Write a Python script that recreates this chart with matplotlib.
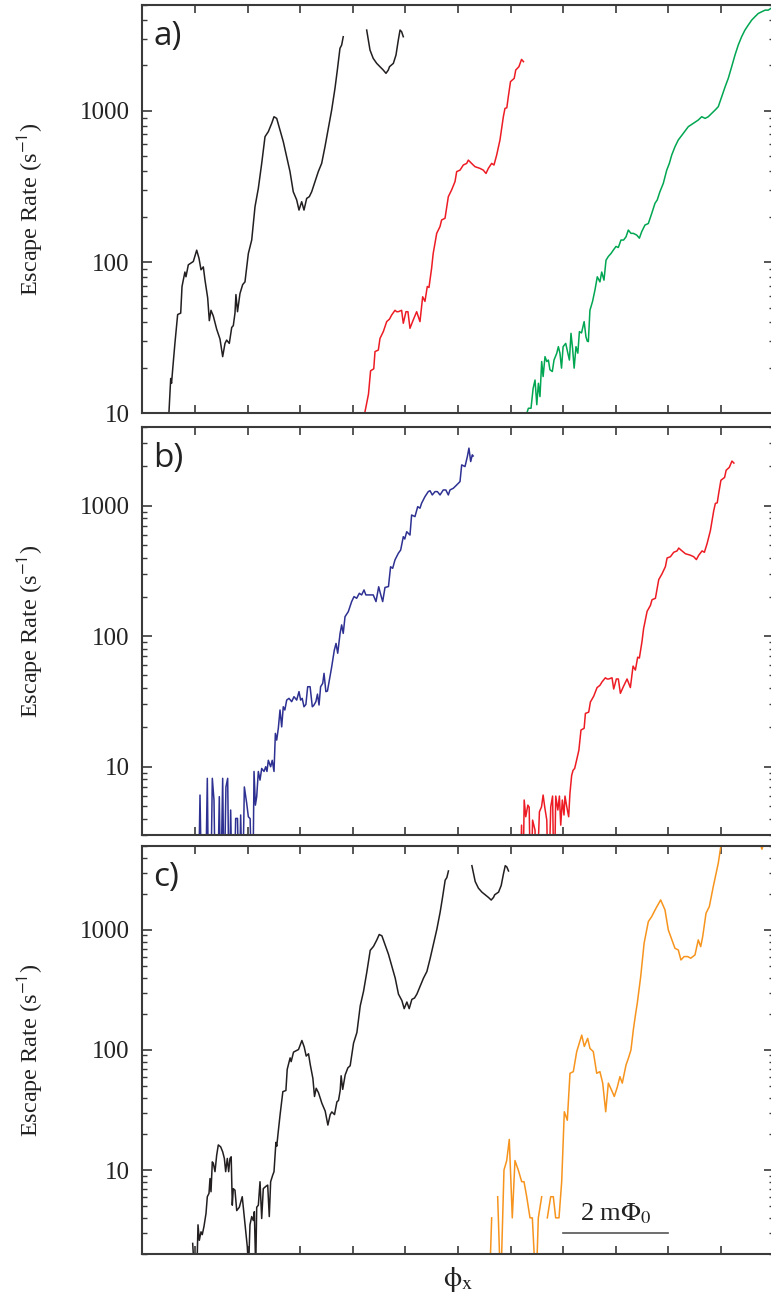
import numpy as np
import matplotlib
matplotlib.use('Agg')
import matplotlib.pyplot as plt
from matplotlib.ticker import FixedLocator, LogLocator, NullFormatter, NullLocator, FuncFormatter

nan = np.nan

# ---------------- data (x in mPhi0, y = escape rate in 1/s) ----------------
# black curve, in panel c coordinates (panel a shows it shifted by -2 mPhi0)
BLACK_X = [0.958, 0.985, 1.04, 1.059, 1.084, 1.116, 1.14, 1.173, 1.211, 1.236, 1.268, 1.287,
           1.306, 1.331, 1.35, 1.382, 1.414, 1.445, 1.49, 1.528, 1.56, 1.585, 1.616, 1.642,
           1.667, 1.69, 1.711, 1.73, 1.762, 1.795, 1.844, 1.90, 1.952, 1.996, 2.02, 2.047,
           2.08, 2.11, 2.13, 2.156, 2.175, 2.206, 2.238, 2.27, 2.30, 2.346, 2.384, 2.414,
           2.44, 2.48, 2.504, 2.54, 2.556, 2.58, 2.62, 2.672, 2.73, 2.755, 2.81, 2.83, 2.875,
           2.97, 3.034, 3.078, 3.116, 3.16, 3.192, 3.243, 3.274, 3.306, 3.35, 3.414, 3.477,
           3.528, 3.572, 3.604, 3.654, 3.70, 3.73, 3.762, 3.78, 3.81, 3.857, 3.908, 3.952,
           4.016, 4.08, 4.143, 4.206, 4.27, 4.333, 4.396, 4.46, 4.504, 4.555, 4.618, 4.68,
           4.745, 4.808, 4.87, 4.935, 4.979, 5.03, 5.074, 5.125, 5.175, 5.22, 5.283, 5.346,
           5.41, 5.473, 5.536, 5.60, 5.663, 5.708, 5.758, 5.79, 5.82, nan,
           6.266, 6.329, 6.39, 6.456, 6.519, 6.58, 6.633, 6.677, 6.70, 6.773, 6.823, 6.867,
           6.90, 6.93, 6.962]
BLACK_Y = [2.45, 1.5, 1.6, 3.5, 2.6, 3.06, 2.9, 3.4, 4.35, 6.0, 6.4, 8.5,
           6.6, 11.7, 11.4, 9.7, 13.3, 16.2, 15.6, 14.2, 12.5, 9.7, 12.5, 9.7,
           12.5, 12.9, 5.1, 7.0, 6.8, 4.6, 4.9, 6.0, 3.6, 2.3, 1.5, 3.5,
           4.1, 3.8, 4.5, 1.5, 4.9, 5.1, 8.0, 3.95, 7.0, 7.3, 7.5, 4.1,
           8.0, 9.1, 9.7, 17, 15.8, 20, 29, 45, 46, 69, 86, 80, 96,
           101, 120, 106, 89, 93, 76, 58, 41, 48, 44, 36, 31,
           23.7, 29, 30.5, 29, 37, 38, 46, 61, 47, 62, 71, 74,
           114, 140, 233, 308, 450, 676, 730, 828, 916, 893, 749, 627,
           499, 397, 292, 258, 221, 251, 221, 264, 271, 292, 341, 397,
           450, 580, 767, 1014, 1410, 1866, 2596, 2730, 3098, nan,
           3428, 2529, 2228, 2065, 1963, 1866, 1774, 1866, 1963, 2065, 2344, 2944,
           3428, 3344, 3098]

# red curve, in panel b coordinates (panel a shows it shifted by -4 mPhi0)
RED_X = [7.18, 7.21, 7.235, 7.26, 7.29, 7.33, 7.355, 7.384, 7.42, 7.466, 7.49, 7.55, 7.59,
         7.62, 7.65, 7.69, 7.72, 7.765, 7.80, 7.83, 7.86, 7.90, 7.93, 7.955, 7.985, 8.017,
         8.036, 8.07, 8.106, 8.13, 8.163, 8.19, 8.22, 8.256, 8.30, 8.34, 8.40, 8.424, 8.487,
         8.519, 8.582, 8.646, 8.70, 8.741, 8.804, 8.836, 8.867, 8.93, 8.962, 9.013, 9.05,
         9.089, 9.15, 9.216, 9.279, 9.33, 9.374, 9.418, 9.45, 9.50, 9.53, 9.597, 9.66, 9.69,
         9.755, 9.818, 9.88, 9.945, 9.977, 10.04, 10.103, 10.167, 10.198, 10.26, 10.325,
         10.42, 10.483, 10.534, 10.579, 10.642, 10.686, 10.737, 10.80, 10.864, 10.895,
         10.93, 10.958, 11.00, 11.07, 11.10, 11.16, 11.21, 11.247]
RED_Y = [1, 3.57, 1, 5.56, 4.14, 5.08, 4.9, 1, 3.9, 3.27, 1, 4.52, 4.93,
         6.07, 4.93, 3.9, 1, 4.93, 5.96, 1, 5.96, 4.66, 5.96, 3.57, 5.56, 4.27,
         5.96, 4.93, 4.14, 6.25, 8.6, 9.4, 9.7, 11.2, 13.4, 19.1, 19.7, 25.6, 26.2,
         31.3, 34.7, 40.4, 42, 44.7, 48, 47, 47, 48, 39.4, 47, 47,
         36.5, 41.4, 47, 40.4, 59, 55, 69, 68, 91, 114, 155, 172, 190,
         195, 271, 300, 341, 397, 406, 439, 450, 473, 450, 428,
         417, 406, 386, 417, 450, 439, 511, 643, 916, 1040,
         1050, 1241, 1563, 1643, 1866, 1963, 2194, 2118]

# green curve (panel a)
GREEN_X = [7.31, 7.34, 7.39, 7.43, 7.466, 7.50, 7.53, 7.56, 7.593, 7.62, 7.656, 7.69, 7.72,
           7.75, 7.795, 7.827, 7.88, 7.91, 7.94, 7.97, 8.00, 8.05, 8.09, 8.12, 8.15, 8.18,
           8.21, 8.245, 8.28, 8.31, 8.35, 8.40, 8.435, 8.46, 8.48, 8.51, 8.56, 8.606, 8.65,
           8.70, 8.734, 8.777, 8.816, 8.86, 8.91, 8.954, 9.006, 9.05, 9.10, 9.15, 9.196, 9.24,
           9.29, 9.335, 9.40, 9.45, 9.494, 9.557, 9.62, 9.685, 9.747, 9.79, 9.84, 9.905,
           9.97, 10.02, 10.065, 10.127, 10.19, 10.285, 10.38, 10.475, 10.57, 10.635, 10.70,
           10.76, 10.825, 10.89, 10.95, 11.015, 11.08, 11.14, 11.205, 11.268, 11.33, 11.394,
           11.457, 11.52, 11.585, 11.647, 11.71, 11.775, 11.84, 11.90, 11.95]
GREEN_Y = [10, 10.8, 10.8, 14.6, 16.6, 11.4, 15.8, 12.9, 22, 17.5, 23.7, 22, 22.5,
           19.4, 18.9, 22.5, 25, 27.6, 25, 19.9, 27.6, 29, 25, 22.5, 33.8, 26.9,
           19.9, 27.6, 25, 34.7, 34, 40.4, 32, 30, 29.8, 48, 55, 65.5, 80,
           74, 86, 76, 103, 109, 114, 120, 127, 125, 140, 140, 147, 163,
           155, 155, 151, 144, 159, 176, 180, 210, 245, 258, 292, 332,
           406, 450, 511, 580, 643, 711, 787, 828, 871, 916, 893,
           916, 964, 1014, 1067, 1241, 1445, 1643, 1963, 2344, 2730, 3098,
           3428, 3700, 3990, 4200, 4415, 4530, 4645, 4645, 4770]

# blue curve (panel b)
BLUE_X = [1.065, 1.097, 1.13, 1.20, 1.236, 1.26, 1.30, 1.331, 1.363, 1.39, 1.43, 1.464, 1.49,
          1.528, 1.555, 1.59, 1.623, 1.65, 1.68, 1.71, 1.745, 1.775, 1.81, 1.84, 1.87, 1.905,
          1.94, 1.985, 2.016, 2.05, 2.085, 2.10, 2.124, 2.15, 2.175, 2.206, 2.238, 2.27, 2.314,
          2.346, 2.37, 2.396, 2.44, 2.47, 2.504, 2.53, 2.555, 2.586, 2.618, 2.65, 2.68, 2.71,
          2.745, 2.789, 2.84, 2.884, 2.935, 2.979, 3.01, 3.04, 3.074, 3.11, 3.144, 3.19, 3.232,
          3.26, 3.30, 3.33, 3.36, 3.39, 3.43, 3.455, 3.49, 3.52, 3.556, 3.60, 3.65, 3.683,
          3.715, 3.76, 3.79, 3.82, 3.854, 3.916, 3.98, 4.025, 4.075, 4.126, 4.17, 4.215, 4.25,
          4.329, 4.39, 4.443, 4.494, 4.53, 4.57, 4.614, 4.68, 4.72, 4.76, 4.804, 4.867, 4.912,
          4.962, 4.99, 5.027, 5.089, 5.12, 5.184, 5.236, 5.279, 5.31, 5.374, 5.437, 5.47,
          5.513, 5.565, 5.61, 5.66, 5.722, 5.77, 5.818, 5.85, 5.913, 5.977, 6.04, 6.072,
          6.135, 6.18, 6.21, 6.243, 6.274, 6.29]
BLUE_Y = [1, 6.07, 1, 1, 8.15, 1, 1, 8.15, 5.56, 1, 1, 5.9, 1,
          8.15, 1, 7.0, 8.15, 1, 4.66, 1, 1, 4.02, 4.02, 1, 4.27, 1,
          7.0, 5.24, 4.14, 4.0, 1, 1, 9.2, 5.08, 5.9, 9.2, 7.9, 9.7, 9.2,
          10, 9.2, 11.2, 10, 11.2, 9.2, 18, 16, 19.7, 27.2, 20.2, 28.8, 27.2,
          32.4, 33.4, 31.5, 34.4, 32.4, 37.6, 32.4, 33.4, 28.8, 30, 41, 41, 28.8,
          29.5, 31.5, 36, 29.7, 41, 43.5, 51.9, 37.6, 38, 46, 58, 78, 88,
          74, 105, 122, 105, 141, 154, 184, 201, 195, 213, 207, 226, 207,
          207, 207, 184, 239, 210, 184, 236, 240, 340, 331, 384, 431, 457,
          578, 555, 631, 595, 847, 824, 982, 955, 1043, 1172, 1280, 1300,
          1207, 1280, 1280, 1207, 1318, 1318, 1207, 1318, 1358, 1439, 1528, 2050,
          1991, 2378, 2755, 2175, 2448, 2400]

# orange curve (panel c)
ORANGE_X = [6.597, 6.642, nan, 6.756, 6.813, 6.876, 6.928, 6.977, 7.034, 7.085, 7.148, 7.213,
            7.257, 7.308, 7.371, 7.415, 7.485, 7.529, 7.593, nan, 7.70, 7.764, 7.814, 7.859,
            7.922, 7.973, 8.023, 8.08, 8.131, 8.194, 8.259, 8.354, 8.403, 8.467, 8.511, 8.574,
            8.639, 8.70, 8.753, 8.81, 8.86, 8.924, 8.973, 9.03, 9.08, 9.125, 9.196, 9.24,
            9.29, 9.335, 9.38, 9.41, 9.475, 9.54, 9.62, 9.684, 9.766, 9.855, 9.937, 10.0,
            10.046, 10.127, 10.19, 10.24, 10.30, 10.37, 10.426, 10.507, 10.57, 10.616,
            10.654, 10.717, 10.78, 10.855, 10.95, 11.05, 11.4, 11.73, 11.78, 11.83, 12.1]
ORANGE_Y = [1, 4, nan, 6, 1, 10, 12, 18, 4, 12, 10, 8,
            8, 6, 4, 4, 1, 4, 6, nan, 4, 6, 6, 4,
            4, 8, 30.6, 26, 64, 66, 97, 133, 107, 125, 103, 97,
            64, 66, 53, 30.6, 53, 46, 41, 49, 60, 53, 75, 85,
            100, 147, 202, 245, 408, 774, 1173, 1291, 1516, 1778, 1468, 1000,
            880, 703, 681, 562, 600, 600, 581, 619, 826, 726,
            880, 1377, 1565, 2297, 3593, 7000, 9000, 5600, 4700, 5600, 9000]

BLACK_SHIFT_A = -2.0   # black curve position in panel a relative to panel c
RED_SHIFT_A = -4.0     # red curve position in panel a relative to panel b

YLIMS = [(10, 5000), (3, 4000), (2, 5000)]
PANEL_LABELS = ['a)', 'b)', 'c)']
XTICKS = list(range(0, 13))
YTICKS = [10, 100, 1000]
SCALE_X = [8.0, 10.0]
SCALE_Y = 3.0
SCALE_TEXT = r'2 m$\Phi_0$'

C_BLACK = '#231f20'
C_RED = '#ed1c24'
C_GREEN = '#00a651'
C_BLUE = '#2e3192'
C_ORANGE = '#f7941d'
SPINE = '#3a3a3a'

plt.rcParams['mathtext.fontset'] = 'stix'
plt.rcParams['font.family'] = ['Liberation Serif', 'DejaVu Serif']

W, H = 771, 1305
fig = plt.figure(figsize=(W / 100, H / 100), dpi=100)

left = 142.3 / W
width = 631.2 / W
tops = [5.3, 427.0, 846.0]
bottoms = [413.3, 835.0, 1254.0]
axes = []
for t, b in zip(tops, bottoms):
    ax = fig.add_axes([left, 1 - b / H, width, (b - t) / H])
    axes.append(ax)

bx = np.array(BLACK_X)
rx = np.array(RED_X)
lw = 1.1

axes[0].plot(bx + BLACK_SHIFT_A, BLACK_Y, color=C_BLACK, lw=lw)
axes[0].plot(rx + RED_SHIFT_A, RED_Y, color=C_RED, lw=lw)
axes[0].plot(GREEN_X, GREEN_Y, color=C_GREEN, lw=lw)

axes[1].plot(BLUE_X, BLUE_Y, color=C_BLUE, lw=lw)
axes[1].plot(RED_X, RED_Y, color=C_RED, lw=lw)

axes[2].plot(BLACK_X, BLACK_Y, color=C_BLACK, lw=lw)
axes[2].plot(ORANGE_X, ORANGE_Y, color=C_ORANGE, lw=lw)

fmt = FuncFormatter(lambda v, p: f'{int(round(v))}')
for ax, ylim, lab in zip(axes, YLIMS, PANEL_LABELS):
    ax.set_yscale('log')
    ax.set_xlim(0, 12)
    ax.set_ylim(*ylim)
    ax.xaxis.set_major_locator(FixedLocator(XTICKS))
    ax.xaxis.set_minor_locator(NullLocator())
    ax.yaxis.set_major_locator(FixedLocator(YTICKS))
    ax.yaxis.set_major_formatter(fmt)
    ax.yaxis.set_minor_locator(LogLocator(base=10, subs=np.arange(2, 10), numticks=20))
    ax.yaxis.set_minor_formatter(NullFormatter())
    for s in ax.spines.values():
        s.set_color(SPINE)
        s.set_linewidth(1.5)
    ax.tick_params(axis='both', which='both', direction='in', top=True, right=True,
                   color=SPINE, width=1.2, labelbottom=False)
    ax.tick_params(axis='x', which='major', length=6)
    ax.tick_params(axis='y', which='major', length=7, pad=9, labelsize=18,
                   labelcolor='#222222')
    ax.tick_params(axis='y', which='minor', length=3.5, width=1.0)
    ax.set_ylabel(r'Escape Rate (s$^{\mathsf{-1}}$)', fontsize=17.5, color='#222222')
    ax.yaxis.set_label_coords(-0.154, 0.5)
    ax.text(0.017, 0.902, lab, transform=ax.transAxes, fontsize=24,
            family=['Open Sans', 'DejaVu Sans'], color='#222222', va='baseline', ha='left')

axc = axes[2]
axc.plot(SCALE_X, [SCALE_Y, SCALE_Y], color='#555555', lw=1.2)
axc.text(np.mean(SCALE_X), SCALE_Y * 1.28, SCALE_TEXT, ha='center', va='baseline',
         fontsize=19, color='#222222')
axc.set_xlabel(r'$\mathrm{\phi}_{\mathrm{x}}$', fontsize=21, color='#222222', labelpad=8)

fig.savefig('out.png', dpi=100)
